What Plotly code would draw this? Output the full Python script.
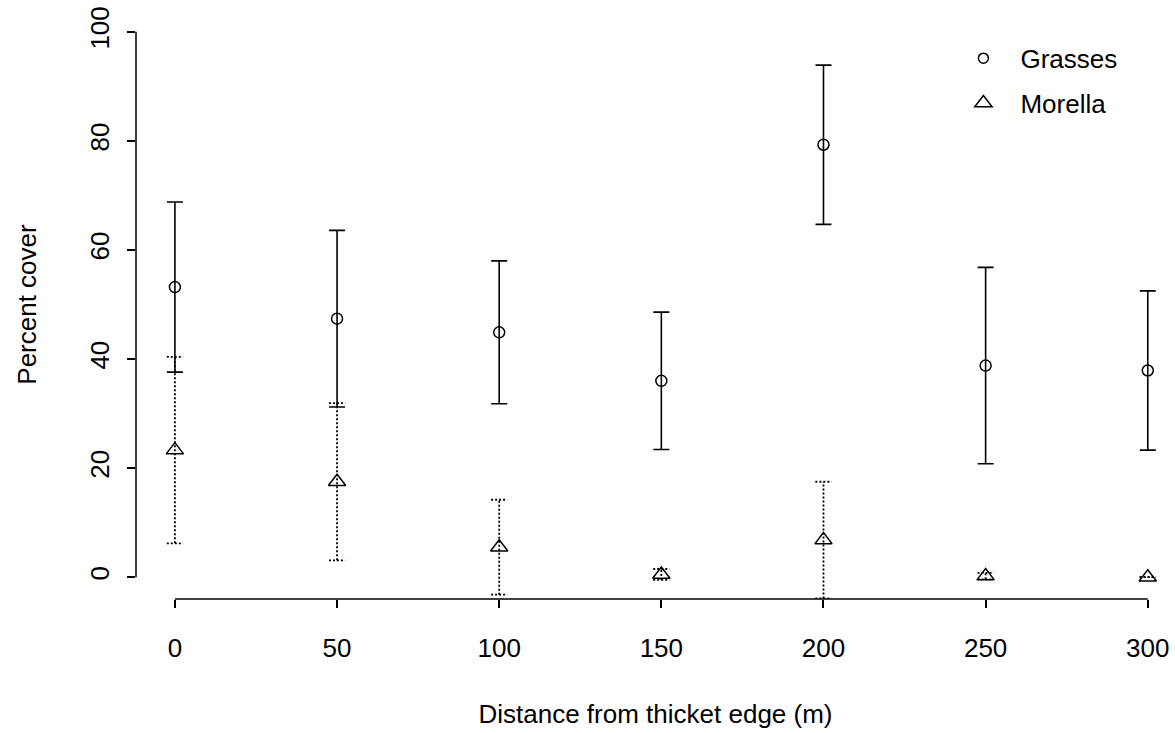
import plotly.graph_objects as go

distance = [0, 50, 100, 150, 200, 250, 300]
grasses_mean = [53.2, 47.4, 44.9, 36.0, 79.3, 38.8, 37.9]
grasses_se = [15.6, 16.2, 13.1, 12.6, 14.6, 18.0, 14.6]
morella_mean = [23.3, 17.5, 5.5, 0.5, 6.8, 0.2, 0.0]
morella_se = [17.1, 14.4, 8.7, 1.0, 10.7, 0.6, 0.0]
x_ticks = [0, 50, 100, 150, 200, 250, 300]
y_ticks = [0, 20, 40, 60, 80, 100]

FONT = "Liberation Sans, Arial, sans-serif"
FS = 26
CAP = 2.5  # half cap width in x data units

# dotted error bars for Morella (built from data)
mx, my = [], []
for xv, m, s in zip(distance, morella_mean, morella_se):
    lo, hi = m - s, m + s
    mx += [xv, xv, None, xv - CAP, xv + CAP, None, xv - CAP, xv + CAP, None]
    my += [lo, hi, None, lo, lo, None, hi, hi, None]

fig = go.Figure()

fig.add_trace(go.Scatter(
    x=distance, y=grasses_mean, mode="markers", name="Grasses",
    marker=dict(symbol="circle-open", size=11, color="black", line=dict(width=1.5, color="black")),
    error_y=dict(type="data", array=grasses_se, visible=True, color="black", thickness=1.6, width=8),
    showlegend=False, legendgroup="g",
))
fig.add_trace(go.Scatter(
    x=mx, y=my, mode="lines", line=dict(color="black", width=1.8, dash="2px,2px"),
    showlegend=False, hoverinfo="skip",
))
fig.add_trace(go.Scatter(
    x=distance, y=morella_mean, mode="markers", name="Morella",
    marker=dict(symbol="triangle-up-open", size=15, color="black", line=dict(width=1.5, color="black")),
    showlegend=False, legendgroup="m",
))
# legend entries
fig.add_trace(go.Scatter(
    x=[None], y=[None], mode="markers", name="Grasses", legendgroup="g",
    marker=dict(symbol="circle-open", size=10, color="black", line=dict(width=1.5, color="black")),
))
fig.add_trace(go.Scatter(
    x=[None], y=[None], mode="markers", name="Morella", legendgroup="m",
    marker=dict(symbol="triangle-up-open", size=15, color="black", line=dict(width=1.5, color="black")),
))

axis_common = dict(
    showgrid=False, zeroline=False, showline=False, ticks="outside", ticklen=8,
    tickwidth=1.5, tickcolor="black", tickfont=dict(family=FONT, size=FS, color="black"),
)

fig.update_layout(
    width=1175, height=733,
    margin=dict(l=136, r=0, t=10, b=134),
    paper_bgcolor="white", plot_bgcolor="white",
    font=dict(family=FONT, size=FS, color="black"),
    xaxis=dict(range=[-12, 308.4], tickvals=x_ticks, ticktext=[str(v) for v in x_ticks],
               ticklabelstandoff=18,
               title=dict(text="Distance from thicket edge (m)", font=dict(family=FONT, size=FS), standoff=42),
               **axis_common),
    yaxis=dict(range=[-4, 104], tickvals=y_ticks, ticktext=[str(v) for v in y_ticks], tickangle=-90,
               ticklabelstandoff=8,
               title=dict(text="Percent cover", font=dict(family=FONT, size=FS), standoff=40),
               **axis_common),
    legend=dict(x=0.78, y=0.958, xanchor="left", yanchor="top", bgcolor="rgba(0,0,0,0)",
                itemwidth=64, tracegroupgap=8, font=dict(family=FONT, size=FS, color="black")),
    shapes=[
        dict(type="line", xref="x", yref="paper", x0=min(x_ticks), x1=max(x_ticks), y0=0, y1=0,
             line=dict(color="black", width=1.5)),
        dict(type="line", xref="paper", yref="y", x0=0, x1=0, y0=min(y_ticks), y1=max(y_ticks),
             line=dict(color="black", width=1.5)),
    ],
)

fig.write_html("out.html")
